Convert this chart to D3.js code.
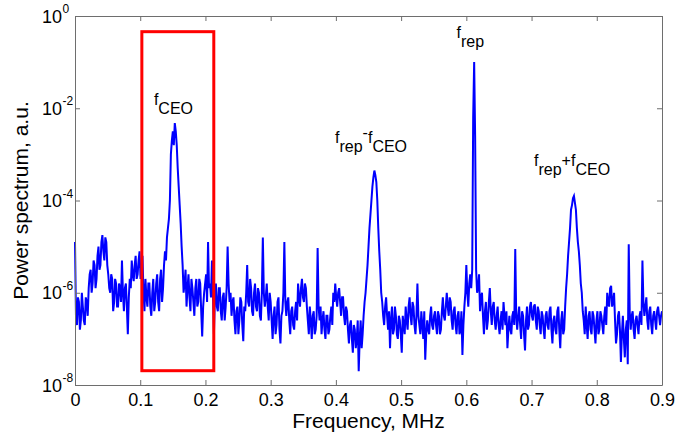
<!DOCTYPE html>
<html>
<head>
<meta charset="utf-8">
<script src="https://cdn.jsdelivr.net/npm/d3@7"></script>
<style>
  html, body { margin: 0; padding: 0; background: #fff; }
  svg { display: block; font-family: "Liberation Sans", Arial, Helvetica, sans-serif; }
</style>
</head>
<body>
<div id="chart"></div>
<script>
// log10 of the power spectrum, on a 0.003 MHz grid
const freqStart = 0;
const freqStep = 0.003;
const log10Power = [
  -4.9, -6.7, -6.2, -6.6, -6.3, -6.7, -6.2, -5.9, -5.5, -5.8,
  -5.4, -5.7, -5.0, -5.4, -4.75, -5.3, -4.9, -5.6, -6.0, -5.7,
  -6.2, -5.8, -6.3, -5.9, -5.3, -6.4, -5.8, -6.9, -5.7, -5.3,
  -5.75, -5.2, -5.6, -5.1, -5.5, -6.0, -5.7, -6.3, -5.8, -6.5,
  -5.7, -6.2, -5.6, -6.4, -5.5, -5.9, -5.1, -4.8, -4.4, -3.0,
  -2.5, -2.32, -2.8, -3.7, -4.5, -5.4, -5.8, -6.3, -5.6, -6.4,
  -5.9, -6.5, -5.7, -6.2, -5.8, -6.95, -6.0, -5.6, -4.9, -5.8,
  -5.3, -6.9, -5.8, -6.4, -5.9, -6.6, -6.0, -6.3, -5.0, -6.2,
  -6.5, -6.1, -6.9, -6.3, -6.6, -6.2, -7.05, -6.4, -5.4, -6.3,
  -5.9, -6.5, -5.8, -6.4, -6.0, -6.6, -4.8, -6.3, -5.8, -6.6,
  -6.2, -7.0, -6.3, -6.7, -6.1, -7.1, -6.4, -4.9, -6.5, -6.1,
  -6.9, -6.3, -6.8, -6.2, -5.8, -6.3, -5.7, -6.2, -5.9, -6.6,
  -6.3, -7.0, -6.4, -6.8, -5.03, -6.6, -6.9, -6.4, -7.0, -6.5,
  -6.8, -6.3, -6.0, -5.8, -6.3, -5.9, -6.5, -6.1, -6.7, -6.4,
  -7.1, -6.6, -7.3, -6.8, -7.0, -7.7, -6.6, -6.9, -6.2, -5.7,
  -5.0, -4.3, -3.7, -3.35, -3.6, -4.6, -5.5, -6.2, -6.7, -6.1,
  -6.8, -7.2, -6.3, -6.8, -6.5, -7.0, -6.6, -7.3, -6.7, -6.3,
  -6.8, -6.1, -6.7, -6.3, -6.9, -5.8, -6.7, -6.4, -7.0, -7.45,
  -6.6, -6.9, -6.3, -6.8, -6.4, -6.9, -6.5, -6.8, -6.1, -6.6,
  -6.0, -6.5, -6.2, -6.8, -6.3, -6.9, -6.4, -6.8, -7.35, -6.3,
  -5.4, -6.3, -5.6, -5.5, -1.0, -5.5, -5.9, -6.4, -6.0, -6.9,
  -6.2, -6.6, -5.9, -6.7, -6.2, -6.8, -6.3, -6.9, -6.4, -6.2,
  -6.7, -7.2, -6.5, -6.9, -6.4, -5.05, -6.8, -6.3, -7.0, -6.5,
  -7.25, -6.3, -6.7, -6.2, -6.6, -6.25, -6.8, -6.4, -6.9, -6.5,
  -7.0, -6.4, -6.8, -6.3, -7.1, -6.5, -6.9, -6.3, -7.2, -6.4,
  -6.8, -5.9, -5.2, -4.6, -4.1, -3.9, -4.2, -4.9, -5.4, -6.0,
  -6.6, -6.3, -7.0, -6.4, -6.9, -6.5, -7.1, -6.4, -6.8, -6.5,
  -6.9, -6.3, -6.0, -6.3, -5.85, -6.2, -6.6, -6.9, -6.4, -7.5,
  -6.5, -7.4, -6.6, -4.95, -6.8, -6.4, -7.0, -6.5, -6.9, -6.4,
  -5.3, -6.5, -6.1, -6.8, -6.3, -6.9, -6.4, -6.8, -6.3, -6.7, -6.4
];
// readings half way between the grid points above (0.0015, 0.0045, ...)
const log10PowerMid = [
  -6.5, -6.1, -6.8, -6.0, -6.6, -6.1, -6.5, -5.6, -6.0, -5.3,
  -5.9, -5.2, -5.5, -4.9, -5.1, -4.8, -5.4, -5.9, -5.6, -6.4,
  -5.7, -6.3, -5.8, -6.2, -6.0, -5.9, -6.3, -6.1, -5.9, -5.6,
  -5.4, -5.7, -5.3, -5.7, -5.2, -6.4, -6.1, -5.8, -6.3, -6.0,
  -6.4, -5.8, -6.2, -5.7, -6.2, -5.4, -5.3, -4.6, -4.0, -2.7,
  -2.8, -2.5, -3.3, -4.1, -5.0, -6.0, -5.5, -5.9, -6.1, -5.7,
  -6.2, -5.9, -6.3, -5.7, -6.4, -6.3, -5.8, -6.2, -5.9, -6.1,
  -6.0, -6.1, -6.3, -5.9, -6.4, -6.1, -6.6, -5.9, -5.8, -6.0,
  -6.2, -6.6, -6.4, -6.9, -6.1, -6.7, -6.3, -6.0, -6.2, -5.7,
  -6.4, -6.0, -6.3, -5.9, -6.5, -6.0, -6.0, -6.1, -6.3, -6.0,
  -6.6, -6.5, -6.9, -6.2, -6.8, -6.5, -6.0, -6.2, -6.2, -6.6,
  -6.4, -6.7, -6.4, -6.6, -6.1, -5.9, -6.1, -5.8, -6.3, -6.9,
  -6.6, -6.5, -6.9, -6.5, -6.3, -6.3, -6.6, -6.8, -6.5, -6.9,
  -6.5, -6.7, -6.2, -6.1, -6.0, -6.2, -6.1, -6.5, -6.3, -6.8,
  -6.7, -7.0, -6.7, -7.2, -6.6, -7.0, -7.2, -6.5, -6.0, -5.4,
  -4.6, -4.0, -3.5, -3.45, -4.0, -5.1, -6.0, -6.5, -6.3, -6.5,
  -6.4, -6.6, -6.9, -6.3, -6.9, -6.5, -6.9, -6.5, -6.9, -6.6,
  -6.3, -6.5, -6.2, -6.7, -6.5, -6.5, -6.9, -6.7, -6.4, -6.9,
  -6.8, -6.5, -6.7, -6.5, -6.7, -6.4, -6.9, -6.4, -6.5, -6.3,
  -6.3, -6.1, -6.6, -6.4, -6.7, -6.5, -6.9, -6.4, -6.7, -6.0,
  -6.0, -5.8, -5.9, -2.2, -2.6, -6.0, -5.6, -6.1, -6.5, -6.4,
  -6.8, -6.2, -6.4, -6.3, -6.6, -6.5, -6.7, -6.6, -6.8, -6.5,
  -6.4, -6.8, -6.8, -6.5, -6.7, -6.5, -6.5, -6.7, -6.4, -6.9,
  -6.6, -6.8, -6.3, -6.5, -6.3, -6.6, -6.3, -6.7, -6.4, -6.8,
  -6.5, -6.7, -6.4, -6.8, -6.6, -6.8, -6.4, -6.8, -6.6, -6.9,
  -6.3, -5.6, -4.9, -4.2, -3.95, -4.05, -4.6, -5.1, -5.8, -6.4,
  -6.9, -6.7, -6.5, -6.8, -6.4, -6.8, -6.6, -6.9, -6.4, -6.7,
  -6.5, -6.7, -6.2, -5.9, -6.3, -6.0, -7.1, -6.5, -6.8, -6.9,
  -7.0, -6.8, -7.55, -6.4, -6.5, -6.8, -6.6, -6.7, -6.5, -6.7,
  -6.2, -6.3, -6.6, -6.4, -6.7, -6.5, -6.6, -6.4, -6.5, -6.5
];

const xTicks = [0, 0.1, 0.2, 0.3, 0.4, 0.5, 0.6, 0.7, 0.8, 0.9];
const xTickLabels = ["0", "0.1", "0.2", "0.3", "0.4", "0.5", "0.6", "0.7", "0.8", "0.9"];
const yTickExponents = [0, -2, -4, -6, -8];

// highlight box around f_CEO: frequency span and log10 span
const boxFreq = [0.1025, 0.2128];
const boxLog = [-0.34, -7.69];

// peak annotations: [text, 0 normal / 1 subscript / 2 raised]
const peakLabels = [
  { f: 0.121, e: -1.93, parts: [["f", 0], ["CEO", 1]] },
  { f: 0.3987, e: -2.755, parts: [["f", 0], ["rep", 1], ["-", 2], ["f", 0], ["CEO", 1]] },
  { f: 0.585, e: -0.477, parts: [["f", 0], ["rep", 1]] },
  { f: 0.7038, e: -3.254, parts: [["f", 0], ["rep", 1], ["+", 0], ["f", 0], ["CEO", 1]] }
];

const W = 676, H = 436;
const plot = { left: 75, right: 662, top: 16, bottom: 385 };

const svg = d3.select("#chart").append("svg")
  .attr("width", W)
  .attr("height", H);

const x = d3.scaleLinear().domain([0, 0.9]).range([plot.left, plot.right]);
const y = d3.scaleLog().domain([1e-8, 1]).range([plot.bottom, plot.top]);

// merge the grid readings with the half-step readings
const points = [];
log10Power.forEach(function(v, i) {
  points.push([freqStart + i * freqStep, Math.pow(10, v)]);
  if (i < log10PowerMid.length) {
    points.push([freqStart + (i + 0.5) * freqStep, Math.pow(10, log10PowerMid[i])]);
  }
});

const line = d3.line()
  .x(function(d) { return x(d[0]); })
  .y(function(d) { return y(d[1]); });

svg.append("path")
  .datum(points)
  .attr("d", line)
  .attr("fill", "none")
  .attr("stroke", "#0000ff")
  .attr("stroke-width", 2);

// red box
svg.append("rect")
  .attr("x", x(boxFreq[0]))
  .attr("y", y(Math.pow(10, boxLog[0])))
  .attr("width", x(boxFreq[1]) - x(boxFreq[0]))
  .attr("height", y(Math.pow(10, boxLog[1])) - y(Math.pow(10, boxLog[0])))
  .attr("fill", "none")
  .attr("stroke", "#ff0000")
  .attr("stroke-width", 3);

// axes, ticks pointing inward on all four sides
const yTickValues = yTickExponents.map(function(e) { return Math.pow(10, e); });

const gx = svg.append("g")
  .attr("transform", "translate(0," + plot.bottom + ")")
  .call(d3.axisBottom(x).tickValues(xTicks).tickSize(-5).tickSizeOuter(0).tickPadding(8)
    .tickFormat(function(d, i) { return xTickLabels[i]; }));

svg.append("g")
  .attr("transform", "translate(0," + plot.top + ")")
  .call(d3.axisTop(x).tickValues(xTicks).tickSize(-5).tickSizeOuter(0).tickFormat(""));

svg.append("g")
  .attr("transform", "translate(" + plot.left + ",0)")
  .call(d3.axisLeft(y).tickValues(yTickValues).tickSize(-5).tickSizeOuter(0).tickFormat(""));

svg.append("g")
  .attr("transform", "translate(" + plot.right + ",0)")
  .call(d3.axisRight(y).tickValues(yTickValues).tickSize(-5).tickSizeOuter(0).tickFormat(""));

svg.selectAll(".domain, .tick line")
  .attr("stroke", "#6e6e6e")
  .attr("stroke-width", 1);

gx.selectAll("text")
  .attr("fill", "#000")
  .style("font-size", "18px")
  .style("font-family", "\"Liberation Sans\", Arial, sans-serif");

// y tick labels as 10 with superscript exponent
const yLab = svg.append("g");
yTickExponents.forEach(function(e) {
  const yy = y(Math.pow(10, e));
  yLab.append("text")
    .attr("x", 62)
    .attr("y", yy + 6.5)
    .attr("text-anchor", "end")
    .style("font-size", "18px")
    .text("10");
  yLab.append("text")
    .attr("x", 62.5)
    .attr("y", yy - 3)
    .style("font-size", "12px")
    .text(String(e));
});

// axis titles
svg.append("text")
  .attr("x", (plot.left + plot.right) / 2)
  .attr("y", 428)
  .attr("text-anchor", "middle")
  .style("font-size", "21px")
  .text("Frequency, MHz");

svg.append("text")
  .attr("transform", "translate(28," + ((plot.top + plot.bottom) / 2) + ") rotate(-90)")
  .attr("text-anchor", "middle")
  .style("font-size", "21px")
  .text("Power spectrum, a.u.");

// peak labels with subscripts
peakLabels.forEach(function(lab) {
  const t = svg.append("text")
    .attr("x", x(lab.f))
    .attr("y", y(Math.pow(10, lab.e)))
    .style("font-size", "16px");
  let shift = 0;
  lab.parts.forEach(function(p) {
    const target = p[1] === 1 ? 9 : (p[1] === 2 ? -5 : 0);
    t.append("tspan")
      .attr("dy", target - shift)
      .text(p[0]);
    shift = target;
  });
});
</script>
</body>
</html>
